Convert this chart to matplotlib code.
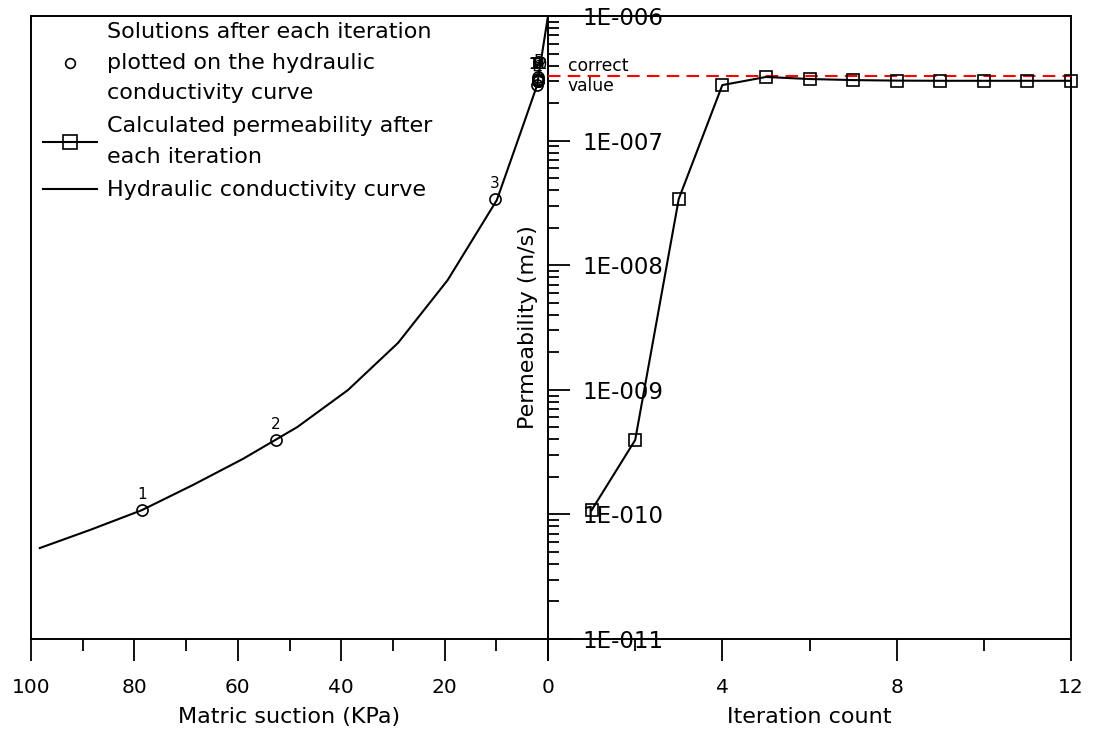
import math
import matplotlib
matplotlib.use('Agg')
import matplotlib.pyplot as plt
from matplotlib.ticker import FixedLocator, LogLocator, FuncFormatter, NullFormatter, NullLocator
from matplotlib.lines import Line2D

# ---- data ----
curve_suction = [98.3, 88.6, 78.6, 68.7, 59.0, 48.5, 38.7, 29.0, 19.4, 9.9, 5.0, 2.1, 0.0]
curve_k = [5.37e-11, 7.50e-11, 1.08e-10, 1.72e-10, 2.79e-10, 5.02e-10, 9.95e-10,
           2.38e-9, 7.60e-9, 3.33e-8, 1.26e-7, 2.79e-7, 1.0e-6]

iterations = [1, 2, 3, 4, 5, 6, 7, 8, 9, 10, 11, 12]
iter_k = [1.08e-10, 3.95e-10, 3.40e-8, 2.79e-7, 3.24e-7, 3.12e-7, 3.06e-7,
          3.03e-7, 3.02e-7, 3.02e-7, 3.02e-7, 3.02e-7]
iter_suction = [78.5, 52.6, 10.3, 2.1, 1.86, 1.92, 1.95, 1.97, 1.97, 1.97, 1.97, 1.97]
correct_value = 3.3e-7

left_major = [100, 80, 60, 40, 20, 0]
left_minor = [90, 70, 50, 30, 10]
right_major = [0, 4, 8, 12]
right_major_labels = ['', '4', '8', '12']
right_minor = [2, 6, 10]

legend_labels = ["Solutions after each iteration\nplotted on the hydraulic\nconductivity curve",
                 "Calculated permeability after\neach iteration",
                 "Hydraulic conductivity curve"]

plt.rcParams['font.family'] = ['DejaVu Sans']

W, H = 1093, 733
fig = plt.figure(figsize=(W / 100, H / 100), dpi=100)
axL = fig.add_axes([31 / W, 94 / H, 517 / W, 623 / H])
axR = fig.add_axes([548 / W, 94 / H, 523 / W, 623 / H])

SPW = 1.4
for ax in (axL, axR):
    ax.set_yscale('log')
    ax.set_ylim(1e-11, 1e-6)
    for s in ax.spines.values():
        s.set_linewidth(SPW)

# ---- left panel ----
axL.plot(curve_suction, curve_k, color='k', lw=1.5, zorder=3)
axL.plot(iter_suction, iter_k, ls='none', marker='o', mfc='none', mec='k', ms=8, mew=1.2, zorder=4)
for i, (s, k) in enumerate(zip(iter_suction, iter_k)):
    axL.annotate(str(iterations[i]), (s, k), xytext=(0, 6), textcoords='offset points',
                 ha='center', va='bottom', fontsize=11)
axL.set_xlim(100, 0)
axL.xaxis.set_major_locator(FixedLocator(left_major))
axL.xaxis.set_minor_locator(FixedLocator(left_minor))
axL.spines['right'].set_visible(False)
axL.yaxis.set_major_locator(NullLocator())
axL.yaxis.set_minor_locator(NullLocator())
axL.tick_params(axis='x', which='major', direction='out', length=16, width=1.3,
                labelsize=14.5, pad=12)
axL.tick_params(axis='x', which='minor', direction='out', length=8.5, width=1.3)
axL.set_xlabel('Matric suction (KPa)', fontsize=16, labelpad=7)

h1 = Line2D([], [], ls='none', marker='o', mfc='none', mec='k', ms=7, mew=1.2)
h2 = Line2D([], [], color='k', lw=1.5, marker='s', mfc='none', mec='k', ms=10, mew=1.2)
h3 = Line2D([], [], color='k', lw=1.5)
leg = axL.legend([h1, h2, h3], legend_labels, loc='upper left',
                 bbox_to_anchor=(12 / 517, 1 - 6 / 623), borderaxespad=0, borderpad=0,
                 frameon=False, fontsize=16, handlelength=2.45, handletextpad=0.45,
                 labelspacing=0.6)
for t in leg.get_texts():
    t.set_linespacing(1.66)

# ---- right panel ----
axR.plot(iterations, iter_k, color='k', lw=1.5, marker='s', mfc='none', mec='k',
         ms=8, mew=1.2, clip_on=False, zorder=4)
axR.axhline(correct_value, color='#ff0000', ls=(0, (6, 3.5)), lw=1.5, zorder=3)
axR.annotate('correct', (0.45, correct_value), xytext=(0, 1), textcoords='offset points',
             ha='left', va='bottom', fontsize=12.3)
axR.annotate('value', (0.45, correct_value), xytext=(0, -1), textcoords='offset points',
             ha='left', va='top', fontsize=12.3)
axR.set_xlim(0, 12)
axR.set_xticks(right_major)
axR.set_xticklabels(right_major_labels)
axR.xaxis.set_minor_locator(FixedLocator(right_minor))
axR.tick_params(axis='x', which='major', direction='out', length=16, width=1.3,
                labelsize=14.5, pad=12)
axR.tick_params(axis='x', which='minor', direction='out', length=8.5, width=1.3)
axR.set_xlabel('Iteration count', fontsize=16, labelpad=7)

axR.yaxis.set_major_locator(LogLocator(base=10, numticks=10))
axR.yaxis.set_minor_locator(LogLocator(base=10, subs=[2, 3, 4, 5, 6, 7, 8, 9], numticks=20))
axR.yaxis.set_minor_formatter(NullFormatter())
axR.yaxis.set_major_formatter(FuncFormatter(lambda v, p: "1E-%03d" % round(-math.log10(v))))
axR.tick_params(axis='y', which='major', direction='in', length=16, width=1.3,
                labelsize=16.5, pad=-24.5)
axR.tick_params(axis='y', which='minor', direction='in', length=8, width=1.3)
for lab in axR.get_yticklabels():
    lab.set_horizontalalignment('left')
axR.set_ylabel('Permeability (m/s)', fontsize=16)
axR.yaxis.set_label_coords(-0.019, 0.5)

fig.savefig('out.png', dpi=100)
